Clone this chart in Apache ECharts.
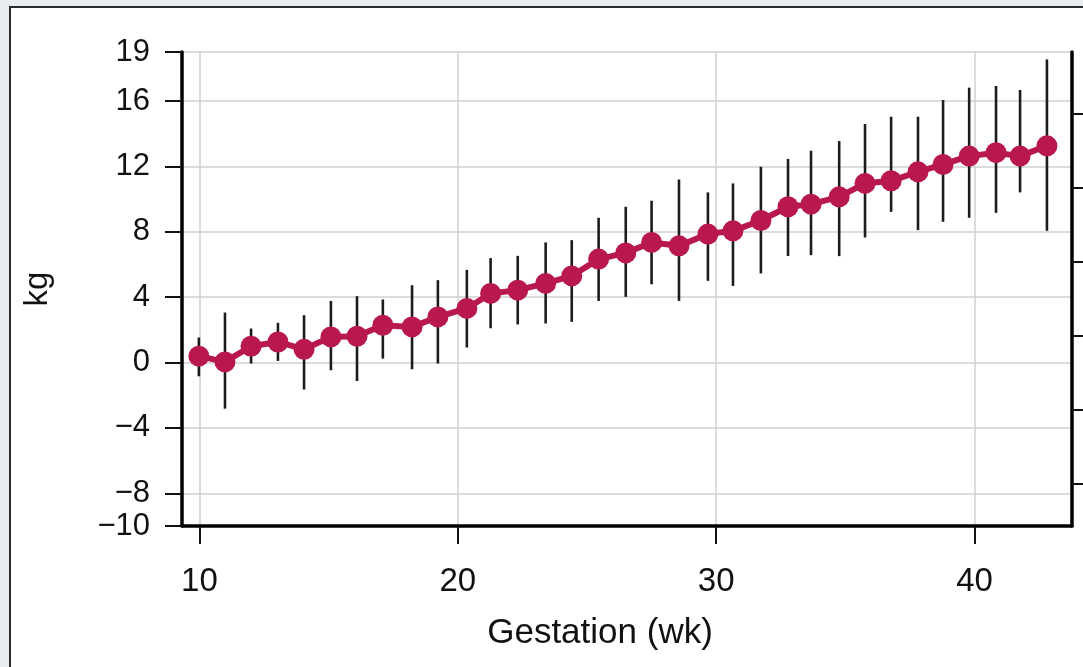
<!DOCTYPE html>
<html>
<head>
<meta charset="utf-8">
<title>Gestation weight gain</title>
<script src="https://cdn.jsdelivr.net/npm/echarts@6/dist/echarts.min.js"></script>
<style>
    html, body { margin: 0; padding: 0; background: #e6ecf0; }
    #gain-chart { width: 1083px; height: 667px; }
</style>
</head>
<body>
<div id="gain-chart"></div>
<script>
// gestation week of each measurement
var weeks = [9.98, 10.99, 12.0, 13.04, 14.05, 15.09, 16.1, 17.1, 18.23, 19.23,
    20.35, 21.27, 22.32, 23.4, 24.41, 25.45, 26.5, 27.5, 28.56, 29.68,
    30.65, 31.73, 32.78, 33.67, 34.76, 35.76, 36.77, 37.81, 38.78, 39.79,
    40.83, 41.76, 42.8];
// mean weight gain (kg)
var meanGain = [0.39, 0.04, 1.0, 1.26, 0.81, 1.57, 1.61, 2.28, 2.18, 2.79,
    3.31, 4.23, 4.43, 4.84, 5.3, 6.33, 6.71, 7.35, 7.14, 7.86,
    8.06, 8.69, 9.53, 9.69, 10.14, 10.96, 11.12, 11.67, 12.12, 12.63,
    12.84, 12.63, 13.26];
// error bar ends (kg)
var gainLow = [-0.84, -2.82, -0.06, 0.1, -1.65, -0.47, -1.13, 0.24, -0.41, -0.06,
    0.92, 2.1, 2.33, 2.39, 2.49, 3.77, 4.02, 4.79, 3.77, 5.0,
    4.69, 5.45, 6.52, 6.57, 6.51, 7.65, 9.22, 8.1, 8.61, 8.86,
    9.16, 10.41, 8.06];
var gainHigh = [1.53, 3.06, 2.08, 2.43, 2.9, 3.77, 4.06, 3.86, 4.73, 5.04,
    5.67, 6.39, 6.53, 7.35, 7.49, 8.86, 9.53, 9.9, 11.2, 10.41,
    10.96, 11.98, 12.46, 12.96, 13.55, 14.59, 15.04, 15.04, 16.06, 16.82,
    16.92, 16.68, 18.55];
// axis ticks
var weekTicks = [10, 20, 30, 40];
var kgTicks = [-10, -8, -4, 0, 4, 8, 12, 16, 19];
var lbTicks = [-20, -10, 0, 10, 20, 30];

window.onload = function () {
    getGainChart();
};

function getGainChart() {
    var myChart = echarts.init(document.getElementById('gain-chart'));

    var lineData = [];
    var barData = [];
    for (var i = 0; i < weeks.length; i++) {
        lineData.push([weeks[i], meanGain[i]]);
        barData.push([weeks[i], gainLow[i], gainHigh[i]]);
    }

    var font = 'Liberation Sans, Arial, sans-serif';

    var option = {
        backgroundColor: 'transparent',
        animation: false,
        graphic: [{
            type: 'rect',
            left: 9,
            top: 6,
            z: -10,
            shape: { width: 1200, height: 800 },
            style: { fill: '#ffffff', stroke: '#2b2b2b', lineWidth: 2 }
        }],
        grid: {
            left: 182,
            right: 11,
            top: 52,
            bottom: 141
        },
        xAxis: {
            type: 'value',
            min: 9.327,
            max: 43.77,
            name: 'Gestation (wk)',
            nameLocation: 'middle',
            nameGap: 90,
            nameTextStyle: {
                fontFamily: font,
                fontSize: 35,
                color: '#111',
                padding: [0, 54, 0, 0]
            },
            axisLine: {
                onZero: false,
                lineStyle: { color: '#000', width: 3.5 }
            },
            axisTick: {
                customValues: weekTicks,
                length: 18,
                lineStyle: { color: '#111', width: 2 }
            },
            axisLabel: {
                customValues: weekTicks,
                margin: 39,
                fontFamily: font,
                fontSize: 33,
                color: '#111'
            },
            splitLine: {
                show: true,
                lineStyle: { color: '#d0d0d0', width: 1.5 }
            }
        },
        yAxis: [{
            type: 'value',
            min: -10,
            max: 19,
            name: 'kg',
            nameLocation: 'middle',
            nameGap: 128,
            nameRotate: 90,
            nameTextStyle: {
                fontFamily: font,
                fontSize: 33,
                color: '#111'
            },
            axisLine: {
                show: true,
                onZero: false,
                lineStyle: { color: '#000', width: 3.5 }
            },
            axisTick: {
                show: true,
                customValues: kgTicks,
                length: 17,
                lineStyle: { color: '#111', width: 2 }
            },
            axisLabel: {
                customValues: kgTicks,
                showMinLabel: true,
                showMaxLabel: true,
                hideOverlap: false,
                margin: 32,
                fontFamily: font,
                fontSize: 31,
                color: '#111',
                formatter: function (v) {
                    return String(v).replace('-', '\u2212');
                }
            },
            splitLine: {
                show: true,
                lineStyle: { color: '#d0d0d0', width: 1.5 }
            }
        }, {
            type: 'value',
            position: 'right',
            min: -25.67,
            max: 38.33,
            axisLine: {
                show: true,
                onZero: false,
                lineStyle: { color: '#000', width: 3.5 }
            },
            axisTick: {
                show: true,
                customValues: lbTicks,
                length: 14,
                lineStyle: { color: '#111', width: 2 }
            },
            axisLabel: { show: false },
            splitLine: { show: false }
        }],
        series: [{
            name: 'range',
            type: 'custom',
            z: 2,
            renderItem: function (params, api) {
                var lo = api.coord([api.value(0), api.value(1)]);
                var hi = api.coord([api.value(0), api.value(2)]);
                return {
                    type: 'line',
                    shape: { x1: lo[0], y1: lo[1], x2: hi[0], y2: hi[1] },
                    style: { stroke: '#1c1c1c', lineWidth: 2.6 }
                };
            },
            encode: { x: 0, y: [1, 2] },
            data: barData
        }, {
            name: 'gain',
            type: 'line',
            z: 3,
            data: lineData,
            symbol: 'circle',
            symbolSize: 21,
            lineStyle: { color: '#b8184e', width: 6 },
            itemStyle: { color: '#b8184e' }
        }]
    };
    myChart.setOption(option);
}
</script>
</body>
</html>
